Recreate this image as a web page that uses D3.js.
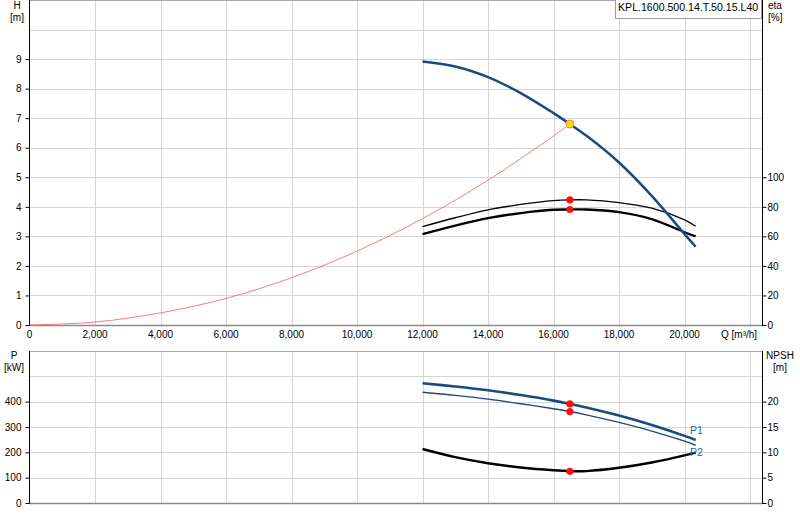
<!DOCTYPE html>
<html lang="en">
	<head>
		<meta charset="UTF-8">
		<title>KPL.1600.500.14.T.50.15.L40</title>
		<script src="https://d3js.org/d3.v7.min.js"></script>
		<style>
			body{
				margin: 0;
				background: #ffffff;
			}
			svg{
				font-family: "Liberation Sans", Arial, sans-serif;
			}
		</style>
	</head>
	<body>
		<svg width="800" height="520"></svg>
		<script>

			var pumpName = "KPL.1600.500.14.T.50.15.L40";

			// flow values the pump curves are read at [m3/h]
			var flowQ = [12000, 13000, 14000, 15000, 16000, 16500, 17000, 18000, 19000, 20000, 20340];
			var headH = [8.92, 8.75, 8.39, 7.85, 7.17, 6.80, 6.41, 5.50, 4.37, 3.08, 2.65];
			var etaUpper = [66.6, 72.6, 78.0, 81.6, 84.2, 84.7, 84.7, 82.9, 79.1, 71.2, 66.9];
			var etaLower = [61.5, 67.3, 72.3, 75.8, 78.0, 78.2, 78.2, 76.4, 71.7, 62.8, 60.0];
			var powerP1 = [473, 460, 445, 426, 404, 391, 377, 345, 308, 265, 249];
			var powerP2 = [437, 425, 410, 392, 372, 361, 348, 318, 284, 244, 228];
			var npsh = [10.66, 9.05, 7.85, 7.0, 6.45, 6.28, 6.3, 6.95, 8.0, 9.4, 9.95];

			// system curve
			var sysQ = [0, 2000, 4000, 6000, 8000, 10000, 12000, 14000, 16000, 16500];
			var sysH = [0, 0.1, 0.41, 0.9, 1.6, 2.5, 3.6, 4.9, 6.4, 6.8];

			// duty point
			var dutyQ = 16500;
			var dutyH = 6.8;
			var dutyEta = [84.7, 78.2];
			var dutyP = [391, 361];
			var dutyNpsh = 6.26;

			// tick labels
			var qTicks = [0, 2000, 4000, 6000, 8000, 10000, 12000, 14000, 16000, 18000, 20000];
			var qGrid = [2000, 4000, 6000, 8000, 10000, 12000, 14000, 16000, 18000, 20000, 22000];
			var hTicks = [0, 1, 2, 3, 4, 5, 6, 7, 8, 9];
			var hGrid = [1, 2, 3, 4, 5, 6, 7, 8, 9, 10];
			var etaTicks = [0, 20, 40, 60, 80, 100];
			var pTicks = [0, 100, 200, 300, 400];
			var pGrid = [100, 200, 300, 400, 500];
			var npshTicks = [0, 5, 10, 15, 20];

			var blue = "#1a4a80";
			var gridCol = "#d6d6d6";

			var svg = d3.select("svg");

			var x = d3.scaleLinear().domain([0, 22366]).range([29.5, 762]);
			var yH = d3.scaleLinear().domain([0, 11]).range([325, 0]);
			var yEta = d3.scaleLinear().domain([0, 220]).range([325, 0]);
			var yP = d3.scaleLinear().domain([0, 600]).range([503, 351]);
			var yNpsh = d3.scaleLinear().domain([0, 30]).range([503, 351]);

			function drawPanel(yScale, top, bottom, gridVals) {
				var g = svg.append("g");
				g.selectAll(".vg")
						.data(qGrid)
						.enter()
						.append("line")
						.attr("x1", function (d) { return Math.round(x(d)) + 0.5; })
						.attr("x2", function (d) { return Math.round(x(d)) + 0.5; })
						.attr("y1", top)
						.attr("y2", bottom)
						.attr("stroke", gridCol);
				g.selectAll(".hg")
						.data(gridVals)
						.enter()
						.append("line")
						.attr("x1", 29.5)
						.attr("x2", 762)
						.attr("y1", function (d) { return Math.round(yScale(d)) + 0.5; })
						.attr("y2", function (d) { return Math.round(yScale(d)) + 0.5; })
						.attr("stroke", gridCol);
				// top and bottom border
				g.append("line")
						.attr("x1", 29.5).attr("x2", 762)
						.attr("y1", top + 0.5).attr("y2", top + 0.5)
						.attr("stroke", "#a8a8a8");
				g.append("line")
						.attr("x1", 29.5).attr("x2", 762)
						.attr("y1", bottom + 0.5).attr("y2", bottom + 0.5)
						.attr("stroke", "#8a8a8a")
						.attr("stroke-width", 1.5);
				// left and right axis
				g.append("line")
						.attr("x1", 29.5).attr("x2", 29.5)
						.attr("y1", top).attr("y2", bottom + 1)
						.attr("stroke", "#000");
				g.append("line")
						.attr("x1", 762.5).attr("x2", 762.5)
						.attr("y1", top).attr("y2", bottom + 1)
						.attr("stroke", "#000");
			}

			drawPanel(yH, 0, 325, hGrid);
			drawPanel(yP, 351, 503, pGrid);

			function leftAxis(scale, vals, fmt) {
				var ax = d3.axisLeft(scale).tickValues(vals).tickSize(4).tickFormat(fmt);
				var g = svg.append("g")
						.attr("transform", "translate(29.5,0)")
						.call(ax);
				g.select(".domain").remove();
				g.selectAll("text").attr("font-size", 10).attr("fill", "#000").attr("x", -8);
			}
			function rightAxis(scale, vals) {
				var ax = d3.axisRight(scale).tickValues(vals).tickSize(4);
				var g = svg.append("g")
						.attr("transform", "translate(762.5,0)")
						.call(ax);
				g.select(".domain").remove();
				g.selectAll("text").attr("font-size", 10).attr("fill", "#000").attr("x", 5);
			}

			leftAxis(yH, hTicks, d3.format("d"));
			rightAxis(yEta, etaTicks);
			leftAxis(yP, pTicks, d3.format("d"));
			rightAxis(yNpsh, npshTicks);

			// Q labels between the two panels
			svg.append("g")
					.selectAll("text")
					.data(qTicks)
					.enter()
					.append("text")
					.attr("x", function (d) { return x(d); })
					.attr("y", 338)
					.attr("text-anchor", "middle")
					.attr("font-size", 10)
					.text(function (d) { return d3.format(",")(d); });
			svg.append("text")
					.attr("x", 721)
					.attr("y", 338)
					.attr("font-size", 10)
					.text("Q [m³/h]");

			// axis titles
			function title(xp, yp, anchor, lines) {
				lines.forEach(function (t, i) {
					svg.append("text")
							.attr("x", xp)
							.attr("y", yp + i * 11.5)
							.attr("text-anchor", anchor)
							.attr("font-size", 10)
							.text(t);
				});
			}
			title(17, 9, "middle", ["H", "[m]"]);
			title(768, 9, "start", ["eta", "[%]"]);
			title(14, 359, "middle", ["P", "[kW]"]);
			title(780, 359, "middle", ["NPSH", "[m]"]);

			// name box
			svg.append("rect")
					.attr("x", 615.5)
					.attr("y", -1)
					.attr("width", 146)
					.attr("height", 19.5)
					.attr("fill", "#fff")
					.attr("stroke", "#9a9a9a");
			svg.append("text")
					.attr("x", 618)
					.attr("y", 11)
					.attr("font-size", 10.6)
					.text(pumpName);

			function curve(xs, ys, yScale, col, w) {
				var pts = xs.map(function (q, i) { return [x(q), yScale(ys[i])]; });
				svg.append("path")
						.attr("d", d3.line().curve(d3.curveCatmullRom.alpha(0.5))(pts))
						.attr("fill", "none")
						.attr("stroke", col)
						.attr("stroke-width", w);
			}

			// top panel
			curve(sysQ, sysH, yH, "#ff6a6a", 0.9);
			curve(flowQ, etaUpper, yEta, "#000", 1.3);
			curve(flowQ, etaLower, yEta, "#000", 2.3);
			curve(flowQ, headH, yH, blue, 2.5);

			svg.selectAll(".etaDot")
					.data(dutyEta)
					.enter()
					.append("circle")
					.attr("cx", x(dutyQ))
					.attr("cy", function (d) { return yEta(d); })
					.attr("r", 3.6)
					.attr("fill", "#ff1010");
			svg.append("circle")
					.attr("cx", x(dutyQ))
					.attr("cy", yH(dutyH))
					.attr("r", 4)
					.attr("fill", "#ffdd00")
					.attr("stroke", "#f08a3a")
					.attr("stroke-width", 1);

			// bottom panel
			curve(flowQ, powerP2, yP, blue, 1.4);
			curve(flowQ, powerP1, yP, blue, 2.6);
			curve(flowQ, npsh, yNpsh, "#000", 2.4);

			svg.selectAll(".pDot")
					.data(dutyP)
					.enter()
					.append("circle")
					.attr("cx", x(dutyQ))
					.attr("cy", function (d) { return yP(d); })
					.attr("r", 3.6)
					.attr("fill", "#ff1010");
			svg.append("circle")
					.attr("cx", x(dutyQ))
					.attr("cy", yNpsh(dutyNpsh))
					.attr("r", 3.6)
					.attr("fill", "#ff1010");

			svg.append("text")
					.attr("x", 690)
					.attr("y", 434)
					.attr("font-size", 10.5)
					.attr("fill", "#2466a8")
					.text("P1");
			svg.append("text")
					.attr("x", 690)
					.attr("y", 456)
					.attr("font-size", 10.5)
					.attr("fill", "#2466a8")
					.text("P2");

		</script>
	</body>
</html>
